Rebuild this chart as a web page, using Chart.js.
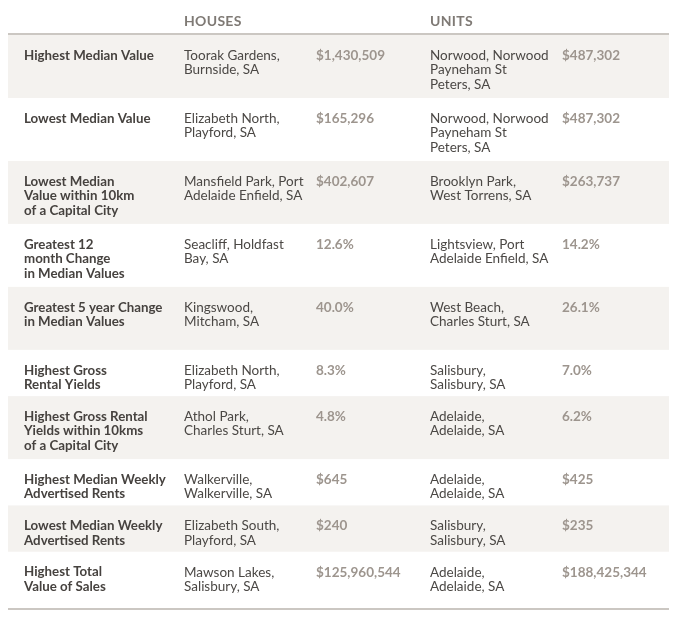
<!DOCTYPE html>
<html>
<head>
<meta charset="utf-8">
<script src="https://cdn.jsdelivr.net/npm/chart.js@4.4.1/dist/chart.umd.min.js"></script>
<style>
  html, body { margin: 0; padding: 0; background: #ffffff; }
  #wrap { width: 687px; height: 627px; }
</style>
</head>
<body>
<div id="wrap"><canvas id="table"></canvas></div>
<script>
// table content, each cell split into its printed lines
const columnHeaders = ['', 'HOUSES', '', 'UNITS', ''];

const metrics = [
  ['Highest Median Value'],
  ['Lowest Median Value'],
  ['Lowest Median', 'Value within 10km', 'of a Capital City'],
  ['Greatest 12', 'month Change', 'in Median Values'],
  ['Greatest 5 year Change', 'in Median Values'],
  ['Highest Gross', 'Rental Yields'],
  ['Highest Gross Rental', 'Yields within 10kms', 'of a Capital City'],
  ['Highest Median Weekly', 'Advertised Rents'],
  ['Lowest Median Weekly', 'Advertised Rents'],
  ['Highest Total', 'Value of Sales']
];

const houseSuburbs = [
  ['Toorak Gardens,', 'Burnside, SA'],
  ['Elizabeth North,', 'Playford, SA'],
  ['Mansfield Park, Port', 'Adelaide Enfield, SA'],
  ['Seacliff, Holdfast', 'Bay, SA'],
  ['Kingswood,', 'Mitcham, SA'],
  ['Elizabeth North,', 'Playford, SA'],
  ['Athol Park,', 'Charles Sturt, SA'],
  ['Walkerville,', 'Walkerville, SA'],
  ['Elizabeth South,', 'Playford, SA'],
  ['Mawson Lakes,', 'Salisbury, SA']
];

const houseValues = ['$1,430,509', '$165,296', '$402,607', '12.6%', '40.0%',
  '8.3%', '4.8%', '$645', '$240', '$125,960,544'];

const unitSuburbs = [
  ['Norwood, Norwood', 'Payneham St', 'Peters, SA'],
  ['Norwood, Norwood', 'Payneham St', 'Peters, SA'],
  ['Brooklyn Park,', 'West Torrens, SA'],
  ['Lightsview, Port', 'Adelaide Enfield, SA'],
  ['West Beach,', 'Charles Sturt, SA'],
  ['Salisbury,', 'Salisbury, SA'],
  ['Adelaide,', 'Adelaide, SA'],
  ['Adelaide,', 'Adelaide, SA'],
  ['Salisbury,', 'Salisbury, SA'],
  ['Adelaide,', 'Adelaide, SA']
];

const unitValues = ['$487,302', '$487,302', '$263,737', '14.2%', '26.1%',
  '7.0%', '6.2%', '$425', '$235', '$188,425,344'];

// layout (table units ~ px)
const FONT = 'Lato, "Open Sans", sans-serif';
const colStart = [16, 176, 308, 422, 554];   // left edge of each column inside the table
const bandLines = [3, 3, 3, 3, 3, 2, 3, 2, 2, 2]; // row height in text lines, as set in the original
const LINE_H = 14.5;
const rowHeight = n => 13 + 16.7 * n;
const rowTops = [];
let acc = 0;
bandLines.forEach(n => { rowTops.push(acc); acc += rowHeight(n); });
const tableEnd = acc + 12;

const columns = [
  { cells: metrics, font: 'bold 13.3px ' + FONT, color: '#46423f' },
  { cells: houseSuburbs, font: '13.5px ' + FONT, color: '#4b4845' },
  { cells: houseValues.map(v => [v]), font: 'bold 13.5px ' + FONT, color: '#9d958e' },
  { cells: unitSuburbs, font: '13.5px ' + FONT, color: '#4b4845' },
  { cells: unitValues.map(v => [v]), font: 'bold 13.5px ' + FONT, color: '#9d958e' }
];

const tablePlugin = {
  id: 'tablePlugin',
  beforeDatasetsDraw(chart) {
    const { ctx, scales: { x, y } } = chart;
    const left = x.getPixelForValue(0);
    const right = x.getPixelForValue(661);
    ctx.save();
    // shaded bands on every other row
    rowTops.forEach((top, i) => {
      if (i % 2 !== 0) return;
      const y0 = y.getPixelForValue(top);
      const y1 = y.getPixelForValue(top + rowHeight(bandLines[i]));
      ctx.fillStyle = '#f4f2ef';
      ctx.fillRect(left, y0, right - left, y1 - y0);
    });
    // rules above and below
    ctx.fillStyle = '#cbc7c2';
    ctx.fillRect(left, y.getPixelForValue(0) - 2, right - left, 2);
    ctx.fillRect(left, y.getPixelForValue(tableEnd) - 2, right - left, 2);
    // column headers
    ctx.font = 'bold 14px ' + FONT;
    ctx.letterSpacing = '0.3px';
    ctx.fillStyle = '#7f7a75';
    ctx.textBaseline = 'middle';
    columnHeaders.forEach((h, c) => {
      if (h) ctx.fillText(h, x.getPixelForValue(colStart[c]), y.getPixelForValue(-14));
    });
    // cells
    ctx.letterSpacing = '0px';
    columns.forEach((col, c) => {
      ctx.font = col.font;
      ctx.fillStyle = col.color;
      col.cells.forEach((lines, r) => {
        lines.forEach((line, k) => {
          ctx.fillText(line, x.getPixelForValue(colStart[c]),
            y.getPixelForValue(rowTops[r] + 20.5 + k * LINE_H));
        });
      });
    });
    ctx.restore();
  }
};

new Chart(document.getElementById('table'), {
  type: 'scatter',
  data: { datasets: [{ data: [], pointRadius: 0 }] },
  options: {
    responsive: true,
    maintainAspectRatio: false,
    animation: false,
    events: [],
    layout: { padding: { left: 8, right: 18, top: 35, bottom: 17 } },
    plugins: { legend: { display: false }, tooltip: { enabled: false } },
    scales: {
      x: { type: 'linear', min: 0, max: 661, display: false },
      y: { type: 'linear', min: 0, max: tableEnd, reverse: true, display: false }
    }
  },
  plugins: [tablePlugin]
});
</script>
</body>
</html>
